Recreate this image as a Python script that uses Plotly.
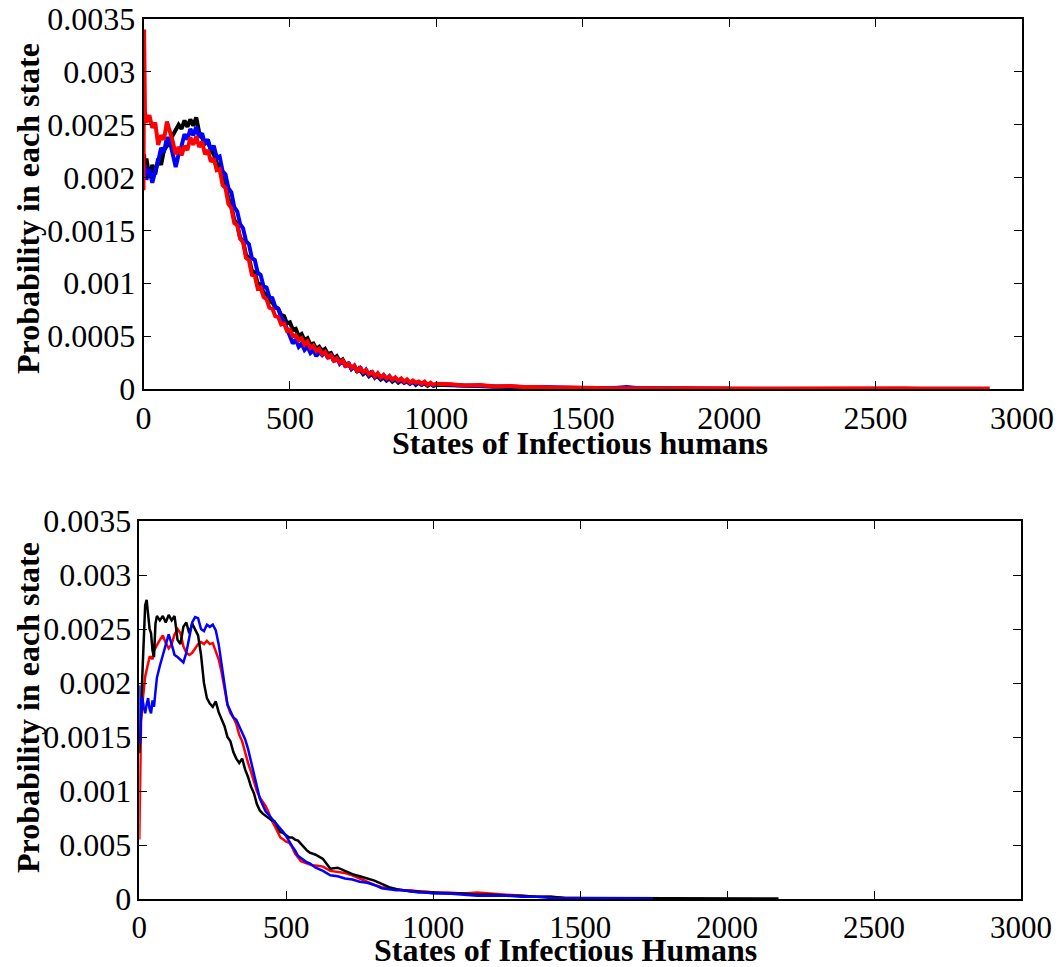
import plotly.graph_objects as go

# ---------------- upper panel: infectious-human state probabilities ----------------
states_top = [
    0, 2, 5,
    10, 20, 30, 40, 50, 60, 70, 80, 90, 100,
    110, 120, 130, 140, 150, 160, 170, 180, 190, 200,
    210, 220, 230, 240, 250, 260, 270, 280, 290, 300,
    310, 320, 330, 340, 350, 360, 370, 380, 390, 400,
    410, 420, 430, 440, 450, 460, 470, 480, 490, 500,
    510, 520, 530, 540, 550, 560, 570, 580, 590, 600,
    610, 620, 630, 640, 650, 660, 670, 680, 690, 700,
    710, 720, 730, 740, 750, 760, 770, 780, 790, 800,
    810, 820, 830, 840, 850, 860, 870, 880, 890, 900,
    910, 920, 930, 940, 950, 960, 970, 980, 990, 1000,
    1050, 1100, 1150, 1200, 1250, 1300, 1350, 1400, 1450, 1500,
    1550, 1600, 1650, 1700, 1750, 1800, 1850, 1900, 1950, 2000,
    2050, 2100, 2150, 2200, 2250, 2300, 2350, 2400, 2450, 2500,
    2550, 2600, 2650, 2700, 2750, 2800, 2850, 2890,
]

black_top = [
    0.00215, 0.00222, 0.00205,
    0.00218, 0.00200, 0.00212, 0.00203, 0.00218, 0.00212, 0.00226, 0.00230, 0.00236, 0.00240,
    0.00245, 0.00250, 0.00246, 0.00254, 0.00248, 0.00255, 0.00249, 0.00257, 0.00243, 0.00238,
    0.00232, 0.00234, 0.00226, 0.00222, 0.00214, 0.00210, 0.00199, 0.00193, 0.00180, 0.00173,
    0.00160, 0.00156, 0.00143, 0.00140, 0.00127, 0.00124, 0.00112, 0.00110, 0.00100, 0.00099,
    0.00091, 0.00090, 0.00083, 0.00082, 0.00077, 0.00076, 0.00070, 0.00069, 0.00062, 0.00063,
    0.00056, 0.00057, 0.00050, 0.00052, 0.00046, 0.00048, 0.00042, 0.00043, 0.00038, 0.00040,
    0.00036, 0.00038, 0.00033, 0.00034, 0.00029, 0.00031, 0.00026, 0.00028, 0.00023, 0.00024,
    0.00019, 0.00021, 0.00017, 0.00018, 0.00014, 0.00016, 0.00012, 0.00014, 0.00011, 0.00012,
    0.00009, 0.00011, 0.00008, 0.00010, 0.00007, 0.00009, 0.00006, 0.00008, 0.00006, 0.00007,
    0.00005, 0.00007, 0.00004, 0.00006, 0.00004, 0.00005, 0.00003, 0.00005, 0.00003, 0.00004,
    0.000035, 0.000028, 0.000030, 0.000020, 0.000022, 0.000014, 0.000015, 0.000010, 0.000012, 0.000008,
    0.000007, 0.000005, 0.000006, 0.000004, 0.000005, 0.000003, 0.000004, 0.000003, 0.000003, 0.000002,
    None, None, None, None, None, None, None, None, None, None,
    None, None, None, None, None, None, None, None,
]

blue_top = [
    0.00210, 0.00200, 0.00212,
    0.00198, 0.00208, 0.00195, 0.00206, 0.00215, 0.00228, 0.00224, 0.00238, 0.00234, 0.00222,
    0.00210, 0.00222, 0.00230, 0.00241, 0.00236, 0.00246, 0.00240, 0.00248, 0.00238, 0.00242,
    0.00232, 0.00236, 0.00226, 0.00230, 0.00219, 0.00220, 0.00206, 0.00203, 0.00190, 0.00186,
    0.00172, 0.00168, 0.00156, 0.00152, 0.00140, 0.00137, 0.00124, 0.00122, 0.00110, 0.00108,
    0.00097, 0.00096, 0.00087, 0.00086, 0.00078, 0.00076, 0.00068, 0.00064, 0.00057, 0.00049,
    0.00043, 0.00047, 0.00040, 0.00043, 0.00037, 0.00040, 0.00034, 0.00037, 0.00031, 0.00035,
    0.00032, 0.00035, 0.00029, 0.00033, 0.00026, 0.00030, 0.00024, 0.00027, 0.00021, 0.00025,
    0.00019, 0.00022, 0.00016, 0.00021, 0.00014, 0.00018, 0.00013, 0.00017, 0.00011, 0.00014,
    0.00010, 0.00013, 0.00009, 0.00012, 0.00008, 0.00010, 0.00007, 0.00009, 0.00006, 0.00008,
    0.00005, 0.00007, 0.00005, 0.00006, 0.00004, 0.00006, 0.00004, 0.00005, 0.00003, 0.00005,
    0.000040, 0.000030, 0.000034, 0.000022, 0.000025, 0.000016, 0.000018, 0.000012, 0.000013, 0.000009,
    0.000008, 0.000007, 0.000020, 0.000005, 0.000004, 0.000004, 0.000003, 0.000003, 0.000002, 0.000002,
    None, None, None, None, None, None, None, None, None, None,
    None, None, None, None, None, None, None, None,
]

red_top = [
    0.00188, 0.00340, 0.00262,
    0.00252, 0.00259, 0.00247, 0.00252, 0.00231, 0.00240, 0.00236, 0.00253, 0.00244, 0.00234,
    0.00222, 0.00229, 0.00221, 0.00230, 0.00226, 0.00238, 0.00231, 0.00239, 0.00229, 0.00234,
    0.00222, 0.00226, 0.00215, 0.00218, 0.00207, 0.00208, 0.00193, 0.00190, 0.00175, 0.00171,
    0.00157, 0.00155, 0.00142, 0.00139, 0.00124, 0.00122, 0.00108, 0.00107, 0.00095, 0.00096,
    0.00087, 0.00085, 0.00077, 0.00076, 0.00069, 0.00068, 0.00061, 0.00062, 0.00055, 0.00056,
    0.00050, 0.00051, 0.00046, 0.00048, 0.00042, 0.00045, 0.00039, 0.00041, 0.00036, 0.00038,
    0.00033, 0.00035, 0.00030, 0.00032, 0.00027, 0.00029, 0.00025, 0.00027, 0.00022, 0.00024,
    0.00020, 0.00022, 0.00017, 0.00020, 0.00016, 0.00018, 0.00014, 0.00016, 0.00012, 0.00015,
    0.00011, 0.00013, 0.00010, 0.00012, 0.00009, 0.00011, 0.00008, 0.00010, 0.00007, 0.00009,
    0.00006, 0.00008, 0.00006, 0.00007, 0.00005, 0.00007, 0.00004, 0.00006, 0.00004, 0.00005,
    0.000045, 0.000032, 0.000038, 0.000024, 0.000028, 0.000018, 0.000020, 0.000012, 0.000014, 0.000009,
    0.000010, 0.000006, 0.000008, 0.000005, 0.000007, 0.000004, 0.000006, 0.000004, 0.000005, 0.000004,
    0.000006, 0.000004, 0.000005, 0.000006, 0.000004, 0.000005, 0.000006, 0.000004, 0.000005, 0.000006,
    0.000005, 0.000007, 0.000005, 0.000006, 0.000008, 0.000006, 0.000007, 0.000004,
]

# ---------------- lower panel ----------------
states_bottom = [
    0, 3, 6, 10, 15, 20, 25, 30, 35, 40, 45, 50, 55, 60,
    70, 80, 90, 100, 110, 120, 130, 140, 150, 160,
    170, 180, 190, 200, 210, 220, 230, 240, 250, 260,
    270, 280, 290, 300, 310, 320, 330, 340, 350, 360,
    370, 380, 390, 400, 410, 420, 430, 440, 450, 460,
    470, 480, 490, 500, 510, 520, 530, 540, 550, 560,
    570, 580, 590, 600,
    625, 650, 675, 700, 725, 750, 775, 800, 825, 850, 875, 900, 925, 950, 975, 1000,
    1050, 1100, 1150, 1200, 1250, 1300, 1350, 1400, 1450, 1500,
]

red_bottom = [
    0.00055, 0.00130, 0.00165, 0.00180, 0.00195, 0.00206, 0.00212, 0.00220, 0.00224, 0.00224, 0.00222, 0.00230, 0.00233, 0.00235,
    0.00240, 0.00244, 0.00237, 0.00232, 0.00236, 0.00245, 0.00250, 0.00246, 0.00234, 0.00228,
    0.00226, 0.00228, 0.00232, 0.00236, 0.00238, 0.00236, 0.00239, 0.00236, 0.00237, 0.00230,
    0.00222, 0.00210, 0.00194, 0.00180, 0.00172, 0.00168, 0.00162, 0.00152, 0.00146, 0.00135,
    0.00126, 0.00118, 0.00108, 0.00100, 0.00094, 0.00090, 0.00086, 0.00080, 0.00073, 0.00068,
    0.00062, 0.00057, 0.00055, 0.00053, 0.00052, 0.00048, 0.00042, 0.00038, 0.00035, 0.00034,
    0.00033, 0.00032, 0.00031, 0.00031,
    0.00030, 0.00026, 0.00025, 0.00024, 0.00022, 0.00019, 0.00016, 0.00013, 0.00011, 0.00010, 0.00009, 0.00008, 0.00008, 0.00007, 0.00007, 0.00006,
    0.00006, 0.00005, 0.00006, 0.00005, 0.00004, 0.00003, 0.00002, 0.00002, 0.00001, 0.00001,
]

black_bottom = [
    0.00135, 0.00150, 0.00170, 0.00205, 0.00245, 0.00272, 0.00277, 0.00262, 0.00250, 0.00246, 0.00230, 0.00224, 0.00255, 0.00262,
    0.00258, 0.00262, 0.00256, 0.00263, 0.00258, 0.00262, 0.00240, 0.00236, 0.00252, 0.00256,
    0.00246, 0.00255, 0.00250, 0.00244, 0.00226, 0.00200, 0.00186, 0.00181, 0.00178, 0.00183,
    0.00173, 0.00166, 0.00160, 0.00150, 0.00146, 0.00136, 0.00130, 0.00126, 0.00130, 0.00120,
    0.00113, 0.00104, 0.00098, 0.00088, 0.00082, 0.00079, 0.00077, 0.00075, 0.00073, 0.00072,
    0.00067, 0.00062, 0.00061, 0.00059, 0.00057, 0.00057, 0.00055, 0.00054, 0.00051, 0.00047,
    0.00045, 0.00043, 0.00042, 0.00041,
    0.00037, 0.00028, 0.00029, 0.00026, 0.00023, 0.00021, 0.00019, 0.00017, 0.00014, 0.00011, 0.00009, 0.00008, 0.00007, 0.00007, 0.00006, 0.00006,
    0.00005, 0.00005, 0.00004, 0.00004, 0.00003, 0.00003, 0.00002, 0.00002, 0.00001, 0.00001,
]
black_tail_states = [1600, 1700, 1800, 1900, 2000, 2100, 2175]
black_tail = [0.000008, 0.000007, 0.000006, 0.000005, 0.000005, 0.000004, 0.000004]

blue_bottom = [
    0.00198, 0.00144, 0.00175, 0.00187, 0.00178, 0.00172, 0.00180, 0.00186, 0.00176, 0.00172, 0.00184, 0.00178, 0.00192, 0.00205,
    0.00216, 0.00226, 0.00236, 0.00245, 0.00236, 0.00226, 0.00224, 0.00221, 0.00219, 0.00228,
    0.00242, 0.00256, 0.00261, 0.00260, 0.00250, 0.00248, 0.00254, 0.00252, 0.00254, 0.00249,
    0.00236, 0.00218, 0.00196, 0.00180, 0.00174, 0.00168, 0.00166, 0.00160, 0.00155, 0.00148,
    0.00139, 0.00127, 0.00115, 0.00104, 0.00093, 0.00087, 0.00081, 0.00078, 0.00075, 0.00071,
    0.00068, 0.00065, 0.00062, 0.00058, 0.00053, 0.00049, 0.00045, 0.00040, 0.00038, 0.00036,
    0.00034, 0.00033, 0.00031, 0.00029,
    0.00026, 0.00022, 0.00021, 0.00019, 0.00018, 0.00016, 0.00015, 0.00013, 0.00010, 0.00009, 0.00008, 0.00008, 0.00007, 0.00006, 0.00006, 0.00005,
    0.00005, 0.00004, 0.00003, 0.00003, 0.00003, 0.00002, 0.00002, 0.00001, 0.00001, 0.00001,
]
blue_tail_states = [1600, 1700, 1748]
blue_tail = [0.000008, 0.000006, 0.000005]

x_ticks = [0, 500, 1000, 1500, 2000, 2500, 3000]
y_ticks = [0, 0.0005, 0.001, 0.0015, 0.002, 0.0025, 0.003, 0.0035]
y_labels_top = ["0", "0.0005", "0.001", "0.0015", "0.002", "0.0025", "0.003", "0.0035"]
y_labels_bottom = ["0", "0.005", "0.001", "0.0015", "0.002", "0.0025", "0.003", "0.0035"]

for a, b in [(states_top, black_top), (states_top, blue_top), (states_top, red_top),
             (states_bottom, red_bottom), (states_bottom, black_bottom), (states_bottom, blue_bottom)]:
    assert len(a) == len(b)

W, H = 1062, 967
SERIF = "Liberation Serif, Times New Roman, serif"

fig = go.Figure()

# upper panel: black, blue, then red drawn on top
for ys, col in [(black_top, "#000000"), (blue_top, "#0000ff"), (red_top, "#ff0000")]:
    fig.add_trace(go.Scatter(x=states_top, y=ys, mode="lines", xaxis="x", yaxis="y",
                             line=dict(color=col, width=4), connectgaps=False,
                             showlegend=False, hoverinfo="skip"))

# lower panel
fig.add_trace(go.Scatter(x=states_bottom, y=red_bottom, mode="lines", xaxis="x2", yaxis="y2",
                         line=dict(color="#ff0000", width=2.5), showlegend=False, hoverinfo="skip"))
fig.add_trace(go.Scatter(x=states_bottom + black_tail_states, y=black_bottom + black_tail,
                         mode="lines", xaxis="x2", yaxis="y2",
                         line=dict(color="#000000", width=2.5), showlegend=False, hoverinfo="skip"))
fig.add_trace(go.Scatter(x=states_bottom + blue_tail_states, y=blue_bottom + blue_tail,
                         mode="lines", xaxis="x2", yaxis="y2",
                         line=dict(color="#0000ff", width=2.5), showlegend=False, hoverinfo="skip"))

tick_font = dict(family=SERIF, size=32, color="black")
axis_common = dict(showline=True, linecolor="black", linewidth=1.5, mirror="ticks",
                   ticks="inside", ticklen=8, tickwidth=1, tickcolor="black",
                   showgrid=False, zeroline=False, tickfont=tick_font, automargin=False)

# pixel boxes of the two panels
top_box = dict(l=143.5, r=1022, t=19, b=389)
bot_box = dict(l=139.3, r=1021, t=521, b=899)


def xdom(b):
    return [b["l"] / W, b["r"] / W]


def ydom(b):
    return [1 - b["b"] / H, 1 - b["t"] / H]


fig.update_layout(
    width=W, height=H, autosize=False,
    margin=dict(l=0, r=0, t=0, b=0, pad=0, autoexpand=False),
    paper_bgcolor="white", plot_bgcolor="white",
    showlegend=False,
    xaxis=dict(domain=xdom(top_box), anchor="y", range=[0, 3000],
               tickvals=x_ticks, ticktext=[str(v) for v in x_ticks], **axis_common),
    yaxis=dict(domain=ydom(top_box), anchor="x", range=[0, 0.0035],
               tickvals=y_ticks, ticktext=y_labels_top, **axis_common),
    xaxis2=dict(domain=xdom(bot_box), anchor="y2", range=[0, 3000],
                tickvals=x_ticks, ticktext=[str(v) for v in x_ticks],
                **{**axis_common, "tickfont": dict(family=SERIF, size=31, color="black")}),
    yaxis2=dict(domain=ydom(bot_box), anchor="x2", range=[0, 0.0035],
                tickvals=y_ticks, ticktext=y_labels_bottom, **axis_common),
)

annotations = [
    dict(text="<b>States of Infectious humans</b>", x=580 / W, y=1 - 443 / H, size=32),
    dict(text="<b>States of Infectious Humans</b>", x=565 / W, y=1 - 950 / H, size=32),
    dict(text="<b>Probability in each state</b>", x=28 / W, y=1 - 209 / H, textangle=-90, size=32),
    dict(text="<b>Probability in each state</b>", x=28 / W, y=1 - 708 / H, textangle=-90, size=32),
]
for a in annotations:
    size = a.pop("size")
    fig.add_annotation(xref="paper", yref="paper", xanchor="center", yanchor="middle",
                       showarrow=False, font=dict(family=SERIF, size=size, color="black"), **a)

fig.write_html("out.html")
